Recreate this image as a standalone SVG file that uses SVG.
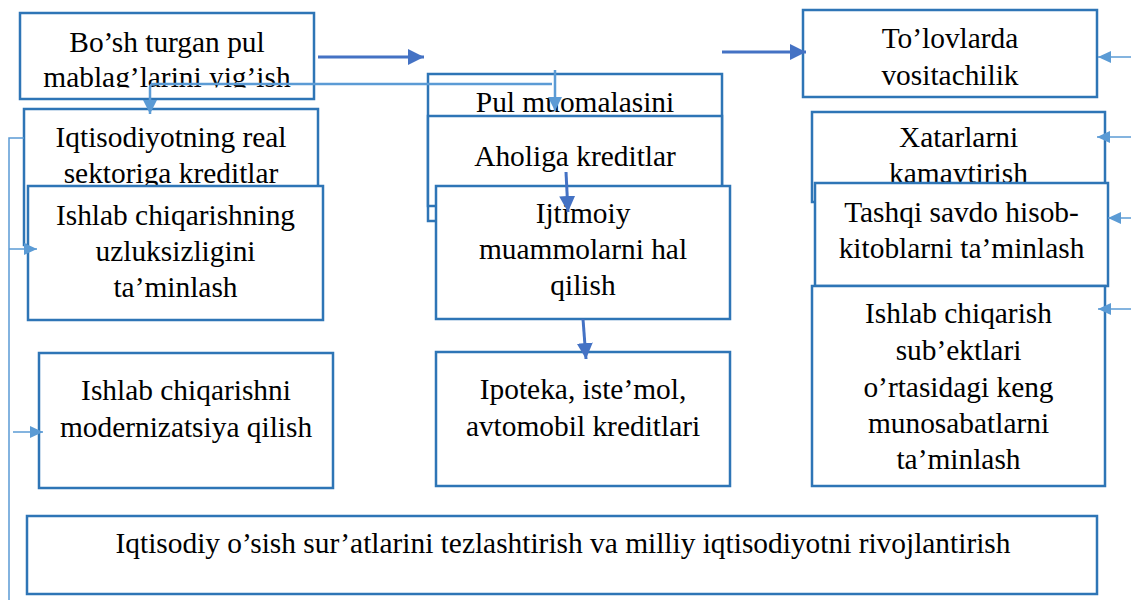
<svg xmlns="http://www.w3.org/2000/svg" width="1131" height="600" viewBox="0 0 1131 600">
<style>
.box{fill:#fff;stroke:#2E75B6;stroke-width:2.5}
.t{font-family:"Liberation Serif","Times New Roman",serif;font-size:29.4px;fill:#000;text-anchor:middle}
.dark{stroke:#4472C4;stroke-width:3;fill:none}
.light{stroke:#5B9BD5;stroke-width:2.5;fill:none}
.thin{stroke:#5B9BD5;stroke-width:1.5;fill:none}
</style>
<defs>
<marker id="ad" markerUnits="userSpaceOnUse" markerWidth="16" markerHeight="16" refX="16" refY="8" orient="auto"><path d="M0,0L16,8L0,16z" fill="#4472C4"/></marker>
<marker id="al" markerUnits="userSpaceOnUse" markerWidth="14" markerHeight="14" refX="14" refY="7" orient="auto"><path d="M0,0L14,7L0,14z" fill="#5B9BD5"/></marker>
<marker id="as" markerUnits="userSpaceOnUse" markerWidth="13" markerHeight="12" refX="13" refY="6" orient="auto"><path d="M0,0L13,6L0,12z" fill="#5B9BD5"/></marker>
<clipPath id="c1"><rect x="0" y="0" width="400" height="87.5"/></clipPath>
</defs>

<g id="n-boshturgan">
<rect class="box" x="20" y="13" width="294" height="86"/>
<g clip-path="url(#c1)"><text class="t" x="167" y="52">Bo’sh turgan pul</text><text class="t" x="167" y="87">mablag’larini yig’ish</text></g>
</g>
<g id="n-iqtisodiyot">
<rect class="box" x="24" y="109" width="294" height="136"/>
<text class="t" x="171" y="147">Iqtisodiyotning real</text><text class="t" x="171" y="183">sektoriga kreditlar</text>
</g>
<g id="n-uzluksiz">
<rect class="box" x="28" y="186" width="295" height="134"/>
<text class="t" x="175.5" y="225">Ishlab chiqarishning</text><text class="t" x="175.5" y="261">uzluksizligini</text><text class="t" x="175.5" y="297">ta’minlash</text>
</g>
<g id="n-modern">
<rect class="box" x="39" y="353" width="294" height="135"/>
<text class="t" x="186" y="400">Ishlab chiqarishni</text><text class="t" x="186" y="437">modernizatsiya qilish</text>
</g>
<g id="n-pul">
<rect class="box" x="428" y="74" width="294" height="147"/>
<text class="t" x="575" y="112">Pul muomalasini</text>
</g>
<g id="n-aholiga">
<rect class="box" x="428" y="116" width="294" height="90"/>
<text class="t" x="575" y="166">Aholiga kreditlar</text>
</g>
<g id="n-ijtimoiy">
<rect class="box" x="436" y="186" width="294" height="133"/>
<text class="t" x="583" y="223">Ijtimoiy</text><text class="t" x="583" y="259">muammolarni hal</text><text class="t" x="583" y="295">qilish</text>
</g>
<g id="n-ipoteka">
<rect class="box" x="436" y="352" width="294" height="134"/>
<text class="t" x="583" y="399">Ipoteka, iste’mol,</text><text class="t" x="583" y="436">avtomobil kreditlari</text>
</g>
<g id="n-tolov">
<rect class="box" x="803" y="10" width="294" height="87"/>
<text class="t" x="950" y="48">To’lovlarda</text><text class="t" x="950" y="85">vositachilik</text>
</g>
<g id="n-xatar">
<rect class="box" x="812" y="112" width="293" height="90"/>
<text class="t" x="958.5" y="147">Xatarlarni</text><text class="t" x="958.5" y="183">kamaytirish</text>
</g>
<g id="n-tashqi">
<rect class="box" x="815" y="183" width="293" height="103"/>
<text class="t" x="961.5" y="222">Tashqi savdo hisob-</text><text class="t" x="961.5" y="258">kitoblarni ta’minlash</text>
</g>
<g id="n-subekt">
<rect class="box" x="812" y="286" width="293" height="200"/>
<text class="t" x="958.5" y="323">Ishlab chiqarish</text><text class="t" x="958.5" y="360">sub’ektlari</text><text class="t" x="958.5" y="397">o’rtasidagi keng</text><text class="t" x="958.5" y="433">munosabatlarni</text><text class="t" x="958.5" y="469">ta’minlash</text>
</g>
<g id="n-osish">
<rect class="box" x="27" y="516" width="1070" height="78"/>
<text class="t" x="563" y="553">Iqtisodiy o’sish sur’atlarini tezlashtirish va milliy iqtisodiyotni rivojlantirish</text>
</g>

<g id="connectors">
<path class="dark" d="M318,57H424" marker-end="url(#ad)"/>
<path class="dark" d="M722,52H806" marker-end="url(#ad)"/>
<path class="dark" d="M566,172L568,212" marker-end="url(#ad)"/>
<path class="dark" d="M583,319L586,359" marker-end="url(#ad)"/>
<path class="light" d="M552,84H154Q150,84 150,88V114" marker-end="url(#al)"/>
<path class="light" d="M555,70V111" marker-end="url(#al)"/>
<path class="thin" d="M1131,57H1098" marker-end="url(#as)"/>
<path class="thin" d="M1131,137H1097" marker-end="url(#as)"/>
<path class="thin" d="M1131,218H1108" marker-end="url(#as)"/>
<path class="thin" d="M1131,309H1098" marker-end="url(#as)"/>
<path class="thin" d="M24,138H9V600"/>
<path class="thin" d="M9,249H37" marker-end="url(#as)"/>
<path class="thin" d="M13,432H43" marker-end="url(#as)"/>
</g>
</svg>
